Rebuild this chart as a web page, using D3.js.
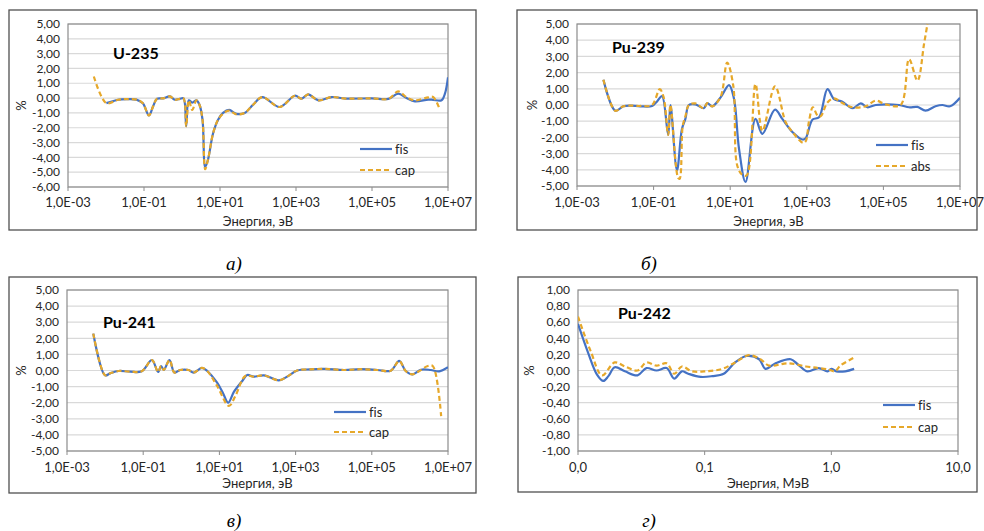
<!DOCTYPE html>
<html>
<head>
<meta charset="utf-8">
<script src="https://cdn.jsdelivr.net/npm/d3@7"></script>
<style>
  body { margin: 0; background: #fff; }
  svg { display: block; }
  text { font-family: Lato, "Open Sans", sans-serif; fill: #262626; font-variant-ligatures: none; }
</style>
</head>
<body>
<svg id="chart" width="984" height="531"></svg>
<script>
// Data: energy as log10(E), values in %
// U-235 (eV)
const u235FisLogE = [-1.99, -1.68, -1.46, -1.2, -1.03, -0.87, -0.76, -0.66, -0.5, -0.32, -0.19, -0.06, 0.04, 0.11, 0.18, 0.27, 0.38, 0.46, 0.54, 0.61, 0.68, 0.82, 0.95, 1.08, 1.24, 1.43, 1.65, 1.87, 2.11, 2.57, 2.97, 3.15, 3.32, 3.59, 3.94, 4.3, 5.0, 5.43, 5.69, 5.91, 6.13, 6.48, 6.61, 6.83, 6.92, 7.0];
const u235FisVal = [-0.34, -0.11, -0.07, -0.1, -0.35, -1.17, -0.55, -0.05, -0.02, 0.11, -0.11, -0.05, -0.02, -1.9, -0.15, -0.3, -0.15, -0.45, -1.46, -4.65, -4.2, -2.36, -1.46, -1.0, -0.8, -1.06, -1.0, -0.45, 0.07, -0.6, 0.16, -0.04, 0.25, -0.16, 0.07, -0.03, -0.02, -0.05, 0.3, 0.0, -0.22, -0.1, -0.12, -0.15, 0.3, 1.4];
const u235CapLogE = [-2.32, -1.99, -1.68, -1.46, -1.2, -1.03, -0.87, -0.76, -0.66, -0.5, -0.32, -0.19, -0.06, 0.04, 0.11, 0.18, 0.27, 0.38, 0.46, 0.54, 0.61, 0.68, 0.82, 0.95, 1.08, 1.24, 1.43, 1.65, 1.87, 2.11, 2.57, 2.97, 3.15, 3.32, 3.59, 3.94, 4.3, 5.0, 5.43, 5.69, 5.91, 6.13, 6.48, 6.61, 6.77];
const u235CapVal = [1.46, -0.34, -0.11, -0.07, -0.1, -0.35, -1.17, -0.55, -0.05, -0.02, 0.11, -0.11, -0.05, -0.02, -1.9, -0.15, -0.8, -0.15, -0.45, -1.46, -4.8, -4.2, -2.36, -1.46, -1.05, -0.85, -1.1, -1.0, -0.45, 0.07, -0.6, 0.16, -0.04, 0.25, -0.16, 0.07, -0.03, -0.02, -0.05, 0.45, 0.05, -0.15, 0.05, 0.07, -0.68];

// Pu-239 (eV)
const pu239FisLogE = [-2.31, -2.0, -1.79, -1.61, -1.35, -1.04, -0.9, -0.78, -0.62, -0.56, -0.39, -0.26, -0.17, -0.08, 0.09, 0.31, 0.4, 0.53, 0.75, 0.97, 1.1, 1.23, 1.4, 1.66, 1.84, 2.17, 2.36, 2.63, 2.89, 2.97, 3.15, 3.32, 3.54, 3.71, 3.93, 4.19, 4.41, 4.58, 4.8, 5.41, 5.67, 5.89, 6.1, 6.36, 6.54, 6.74, 7.0];
const pu239FisVal = [1.56, -0.35, -0.08, -0.04, -0.08, -0.06, 0.25, 0.55, -1.84, 0.0, -4.04, -1.48, -0.86, 0.0, 0.04, -0.2, 0.12, -0.08, 0.47, 1.23, 0.37, -2.7, -4.75, -0.86, -1.78, -0.29, -0.86, -1.68, -2.13, -2.05, -0.9, -0.76, 0.98, 0.37, 0.2, -0.2, 0.1, -0.14, 0.0, 0.0, -0.14, -0.12, -0.35, -0.08, 0.0, -0.08, 0.45];
const pu239AbsLogE = [-2.31, -2.0, -1.79, -1.61, -1.35, -1.04, -0.84, -0.74, -0.62, -0.56, -0.36, -0.32, -0.24, -0.17, -0.08, 0.09, 0.31, 0.4, 0.53, 0.75, 0.92, 1.08, 1.18, 1.31, 1.43, 1.66, 1.84, 2.17, 2.45, 2.63, 2.9, 2.97, 3.06, 3.16, 3.28, 3.36, 3.54, 3.71, 3.93, 4.19, 4.54, 4.8, 5.06, 5.45, 5.67, 5.89, 6.06, 6.15];
const pu239AbsVal = [1.56, -0.35, -0.08, -0.04, -0.06, 0.0, 0.98, 0.5, -1.84, 0.0, -4.5, -4.55, -1.3, -0.7, 0.0, 0.1, -0.2, 0.12, -0.08, 0.5, 2.62, 1.19, -3.7, -4.3, -4.35, 1.29, -1.6, 1.15, -1.07, -1.68, -2.34, -2.25, -0.96, -0.14, -0.66, -0.7, 0.16, 0.41, 0.12, -0.14, -0.08, 0.27, 0.04, 0.0, 2.83, 1.5, 3.75, 5.0];

// Pu-241 (eV)
const pu241FisLogE = [-2.31, -2.0, -1.87, -1.65, -1.34, -1.04, -0.77, -0.61, -0.53, -0.46, -0.31, -0.18, -0.03, 0.19, 0.32, 0.54, 0.68, 0.94, 1.09, 1.23, 1.38, 1.6, 1.73, 1.9, 2.17, 2.56, 2.78, 3.04, 3.39, 3.75, 4.27, 4.71, 5.15, 5.5, 5.72, 5.89, 6.07, 6.29, 6.55, 6.77, 7.0];
const pu241FisVal = [2.29, -0.3, -0.18, -0.03, -0.07, -0.05, 0.65, -0.09, 0.28, 0.03, 0.65, -0.13, 0.03, 0.03, -0.13, 0.16, -0.03, -0.76, -1.38, -2.0, -1.33, -0.65, -0.28, -0.38, -0.3, -0.61, -0.38, 0.0, 0.07, 0.1, 0.03, 0.08, 0.03, -0.01, 0.6, -0.03, -0.24, 0.05, 0.03, -0.05, 0.2];
const pu241CapLogE = [-2.31, -2.0, -1.87, -1.65, -1.34, -1.04, -0.77, -0.61, -0.53, -0.46, -0.31, -0.18, -0.03, 0.19, 0.32, 0.54, 0.68, 0.94, 1.25, 1.42, 1.68, 1.9, 2.17, 2.56, 2.78, 3.04, 3.39, 3.75, 4.27, 4.71, 5.15, 5.5, 5.72, 5.89, 6.07, 6.25, 6.47, 6.6, 6.82];
const pu241CapVal = [2.29, -0.3, -0.18, -0.03, -0.07, -0.05, 0.65, -0.09, 0.28, 0.03, 0.65, -0.13, 0.03, 0.03, -0.13, 0.16, -0.03, -0.96, -2.2, -1.58, -0.34, -0.38, -0.3, -0.61, -0.38, 0.0, 0.07, 0.1, 0.03, 0.08, 0.03, -0.01, 0.6, -0.03, -0.24, -0.03, 0.28, 0.28, -2.83];

// Pu-242 (MeV)
const pu242FisLogE = [-2, -1.92, -1.85, -1.8, -1.76, -1.71, -1.63, -1.53, -1.46, -1.38, -1.3, -1.24, -1.18, -1.13, -1.03, -0.94, -0.85, -0.76, -0.67, -0.57, -0.52, -0.44, -0.32, -0.26, -0.19, -0.1, -0.03, 0.0, 0.04, 0.11, 0.18];
const pu242FisVal = [0.58, 0.22, -0.05, -0.13, -0.07, 0.04, -0.01, -0.06, 0.03, 0.0, 0.03, -0.1, -0.01, -0.04, -0.08, -0.07, -0.04, 0.1, 0.18, 0.14, 0.02, 0.09, 0.14, 0.07, -0.01, 0.03, -0.01, 0.02, -0.01, -0.01, 0.02];
const pu242CapLogE = [-2, -1.9, -1.81, -1.71, -1.63, -1.53, -1.46, -1.38, -1.3, -1.24, -1.18, -1.1, -0.99, -0.86, -0.76, -0.65, -0.56, -0.49, -0.34, -0.2, -0.1, -0.02, 0.03, 0.07, 0.18];
const pu242CapVal = [0.67, 0.24, -0.06, 0.1, 0.05, 0.0, 0.1, 0.06, 0.09, -0.04, 0.05, -0.01, -0.01, 0.02, 0.1, 0.19, 0.14, 0.06, 0.09, 0.05, 0.03, 0.01, -0.01, 0.06, 0.16];

// Tick values
const evTicks = [1e-3, 1e-1, 1e1, 1e3, 1e5, 1e7];
const mevTicks = [0.01, 0.1, 1, 10];
const yTicksWide = d3.range(-6, 6);          // -6 .. 5
const yTicksPu = d3.range(-5, 6);            // -5 .. 5
const yTicksSmall = d3.range(-5, 6).map(i => +(i * 0.2).toFixed(1)); // -1 .. 1

// Formatting (comma decimal, hyphen minus)
const ru = d3.formatLocale({ decimal: ",", thousands: " ", grouping: [3], currency: ["", ""], minus: "-" });
const fmt2 = ru.format(".2f");
const fmt1 = ru.format(".1f");
function fmtSci(v) {
  const e = Math.round(Math.log10(v));
  return "1,0E" + (e < 0 ? "-" : "+") + String(Math.abs(e)).padStart(2, "0");
}

const BLUE = "#4472c4";
const GOLD = "#e6a82a";

function pts(logE, vals) {
  return logE.map((l, i) => ({ e: Math.pow(10, l), v: vals[i] }));
}

// Panel layout
const panels = [
  {
    name: "U-235", box: [9, 10, 467, 220], plot: [68, 24, 448, 187],
    yDom: [-6, 5], yTicks: yTicksWide, yFmt: fmt2,
    xDom: [1e-3, 1e7], xTicks: evTicks, xFmt: fmtSci, xTitle: "Энергия, эВ",
    title: [113, 59], legend: [360, 149, 21], tickY: 207, xTitleY: 226, pctX: 21,
    caption: ["а)", 234, 270],
    series: [
      { name: "fis", data: pts(u235FisLogE, u235FisVal), dash: false },
      { name: "cap", data: pts(u235CapLogE, u235CapVal), dash: true }
    ]
  },
  {
    name: "Pu-239", box: [517, 10, 460, 220], plot: [577, 24, 960, 186],
    yDom: [-5, 5], yTicks: yTicksPu, yFmt: fmt2,
    xDom: [1e-3, 1e7], xTicks: evTicks, xFmt: fmtSci, xTitle: "Энергия, эВ",
    title: [612, 53], legend: [876, 145, 21], tickY: 207, xTitleY: 226, pctX: 532,
    caption: ["б)", 649, 270],
    series: [
      { name: "fis", data: pts(pu239FisLogE, pu239FisVal), dash: false },
      { name: "abs", data: pts(pu239AbsLogE, pu239AbsVal), dash: true }
    ]
  },
  {
    name: "Pu-241", box: [9, 277, 467, 216], plot: [67, 290, 448, 451],
    yDom: [-5, 5], yTicks: yTicksPu, yFmt: fmt2,
    xDom: [1e-3, 1e7], xTicks: evTicks, xFmt: fmtSci, xTitle: "Энергия, эВ",
    title: [103, 328], legend: [334, 412, 20], tickY: 472, xTitleY: 488, pctX: 21,
    caption: ["в)", 234, 527],
    series: [
      { name: "fis", data: pts(pu241FisLogE, pu241FisVal), dash: false },
      { name: "cap", data: pts(pu241CapLogE, pu241CapVal), dash: true }
    ]
  },
  {
    name: "Pu-242", box: [518, 277, 459, 215], plot: [578, 290, 958, 451],
    yDom: [-1, 1], yTicks: yTicksSmall, yFmt: fmt2,
    xDom: [0.01, 10], xTicks: mevTicks, xFmt: fmt1, xTitle: "Энергия, МэВ",
    title: [618, 319], legend: [883, 405, 22], tickY: 472, xTitleY: 488, pctX: 529,
    caption: ["г)", 649, 527],
    series: [
      { name: "fis", data: pts(pu242FisLogE, pu242FisVal), dash: false },
      { name: "cap", data: pts(pu242CapLogE, pu242CapVal), dash: true }
    ]
  }
];

const svg = d3.select("#chart");

panels.forEach((p, idx) => {
  const [l, t, r, b] = p.plot;
  const g = svg.append("g");

  // outer frame
  g.append("rect")
    .attr("x", p.box[0]).attr("y", p.box[1])
    .attr("width", p.box[2]).attr("height", p.box[3])
    .attr("fill", "#fff").attr("stroke", "#505050").attr("stroke-width", 1.3);

  const x = d3.scaleLog().domain(p.xDom).range([l, r]);
  const y = d3.scaleLinear().domain(p.yDom).range([b, t]);

  // gridlines
  g.append("g").selectAll("line")
    .data(p.yTicks)
    .join("line")
    .attr("x1", l).attr("x2", r)
    .attr("y1", d => y(d)).attr("y2", d => y(d))
    .attr("stroke", "#d9d9d9").attr("stroke-width", 1.2);

  // plot border
  g.append("rect")
    .attr("x", l).attr("y", t).attr("width", r - l).attr("height", b - t)
    .attr("fill", "none").attr("stroke", "#8c8c8c").attr("stroke-width", 1.2);

  // x tick marks
  g.append("g").selectAll("line")
    .data(p.xTicks)
    .join("line")
    .attr("x1", d => x(d)).attr("x2", d => x(d))
    .attr("y1", b).attr("y2", b + 4)
    .attr("stroke", "#8c8c8c").attr("stroke-width", 1);

  // y tick labels
  g.append("g").selectAll("text")
    .data(p.yTicks)
    .join("text")
    .attr("x", l - 8).attr("y", d => y(d))
    .attr("dy", "0.35em")
    .attr("text-anchor", "end")
    .attr("font-size", 12)
    .text(d => p.yFmt(d));

  // x tick labels
  g.append("g").selectAll("text")
    .data(p.xTicks)
    .join("text")
    .attr("x", d => x(d)).attr("y", p.tickY)
    .attr("text-anchor", "middle")
    .attr("font-size", 13)
    .text(d => p.xFmt(d));

  // axis titles
  g.append("text")
    .attr("x", (l + r) / 2).attr("y", p.xTitleY)
    .attr("text-anchor", "middle").attr("font-size", 13)
    .text(p.xTitle);
  g.append("text")
    .attr("transform", `translate(${p.pctX},${(t + b) / 2}) rotate(-90)`)
    .attr("text-anchor", "middle").attr("dy", "0.35em").attr("font-size", 13)
    .text("%");

  // clip
  const clipId = "clip" + idx;
  svg.append("clipPath").attr("id", clipId)
    .append("rect").attr("x", l).attr("y", t - 1).attr("width", r - l).attr("height", b - t + 2);

  const line = d3.line()
    .x(d => x(d.e))
    .y(d => y(d.v))
    .curve(d3.curveCatmullRom.alpha(0.5));

  const plotG = g.append("g").attr("clip-path", `url(#${clipId})`);
  p.series.forEach(s => {
    plotG.append("path")
      .datum(s.data)
      .attr("d", line)
      .attr("fill", "none")
      .attr("stroke", s.dash ? GOLD : BLUE)
      .attr("stroke-width", 2.2)
      .attr("stroke-dasharray", s.dash ? "5,3" : null)
      .attr("stroke-linejoin", "round");
  });

  // panel title
  g.append("text")
    .attr("x", p.title[0]).attr("y", p.title[1])
    .attr("font-size", 16).attr("font-weight", "bold")
    .style("fill", "#000")
    .text(p.name);

  // legend
  const [lx, ly, gap] = p.legend;
  p.series.forEach((s, i) => {
    const yy = ly + i * gap;
    g.append("line")
      .attr("x1", lx).attr("x2", lx + 32).attr("y1", yy).attr("y2", yy)
      .attr("stroke", s.dash ? GOLD : BLUE).attr("stroke-width", 2.2)
      .attr("stroke-dasharray", s.dash ? "5,3" : null);
    g.append("text")
      .attr("x", lx + 35).attr("y", yy).attr("dy", "0.35em")
      .attr("font-size", 13)
      .text(s.name);
  });

  // caption
  svg.append("text")
    .attr("x", p.caption[1]).attr("y", p.caption[2])
    .attr("text-anchor", "middle")
    .style("font-family", "'Liberation Serif', serif")
    .style("font-style", "italic")
    .style("fill", "#000")
    .attr("font-size", 19)
    .text(p.caption[0]);
});
</script>
</body>
</html>
